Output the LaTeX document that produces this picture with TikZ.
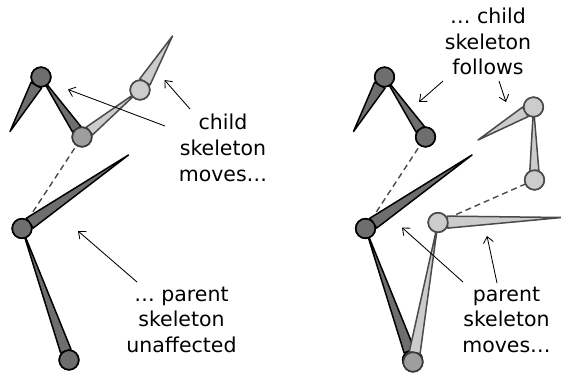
\documentclass[tikz,border=0pt]{standalone}
\usepackage{fontspec}
\setmainfont{DejaVu Sans}
\usetikzlibrary{calc,arrows.meta}
\definecolor{darkfill}{HTML}{6E6E6E}
\definecolor{lightfill}{HTML}{CCCCCC}
\definecolor{midfill}{HTML}{9E9E9E}
\definecolor{lightline}{HTML}{4A4A4A}
\definecolor{midline}{HTML}{3A3A3A}
\tikzset{
  jointdark/.style={circle, minimum size=19.5pt, inner sep=0pt, draw=black, line width=1.6pt, fill=darkfill},
  jointmid/.style={circle, minimum size=19.5pt, inner sep=0pt, draw=midline, line width=1.6pt, fill=midfill},
  jointlight/.style={circle, minimum size=19.5pt, inner sep=0pt, draw=lightline, line width=1.6pt, fill=lightfill},
  bonedark/.style={draw=black, line width=1.5pt, fill=darkfill, line join=round},
  bonelight/.style={draw=lightline, line width=1.5pt, fill=lightfill, line join=round},
  linkdash/.style={draw=lightline, line width=1.4pt, dash pattern=on 6pt off 4pt},
  pointer/.style={draw=black, line width=0.85pt, -{Straight Barb[length=6pt,width=10pt]}},
  lbl/.style={font=\fontsize{20.5pt}{25.5pt}\selectfont, anchor=base, inner sep=0pt}
}
\newcommand\bonedraw[4]{%
  \path coordinate (bb) at ($(#1.center)!9.5pt!(#2.center)$);
  \draw[#4] ($(bb)!#3!90:(#2.center)$) -- (#2.center) -- ($(bb)!#3!-90:(#2.center)$) -- cycle;
}
\begin{document}
\begin{tikzpicture}[x=1pt,y=-1pt]
\useasboundingbox (0,0) rectangle (561,372);
% ---------- left: coordinates ----------
\coordinate (tA) at (10,131.5);
\coordinate (tC) at (172.5,36);
\coordinate (tD) at (128.5,155);
\path (41,77) node[jointdark] (A) {};
\path (82,137) node[jointmid] (B) {};
\path (140,90) node[jointlight] (C) {};
\path (22,228.5) node[jointdark] (D) {};
\path (69,360) node[jointdark] (E) {};
% ---------- right: coordinates ----------
\coordinate (tA2) at (353.5,131.5);
\coordinate (tD2) at (472,155);
\coordinate (tD3) at (562,217.5);
\coordinate (tC3) at (478,140);
\path (384.5,77) node[jointdark] (A2) {};
\path (425.5,137) node[jointdark] (B2) {};
\path (365.5,228.5) node[jointdark] (D2) {};
\path (412.5,360) node[jointdark] (E2) {};
\path (438,222.5) node[jointlight] (D3) {};
\path (534.5,180) node[jointlight] (B3) {};
\path (533.5,107) node[jointlight] (C3) {};
\path (413,362) node[jointmid] (E3) {};
% ---------- left drawing ----------
\draw[linkdash] (D.center) -- (B.center);
\bonedraw{E}{D}{5.5pt}{bonedark}
\bonedraw{D}{tD}{6pt}{bonedark}
\bonedraw{B}{A}{5pt}{bonedark}
\bonedraw{A}{tA}{6pt}{bonedark}
\bonedraw{B}{C}{5pt}{bonelight}
\bonedraw{C}{tC}{6pt}{bonelight}
\node[jointdark] at (E) {};
\node[jointdark] at (D) {};
\node[jointdark] at (A) {};
\node[jointmid] at (B) {};
\node[jointlight] at (C) {};
% ---------- right drawing ----------
\draw[linkdash] (D2.center) -- (B2.center);
\draw[linkdash] (D3.center) -- (B3.center);
\bonedraw{E2}{D2}{5.5pt}{bonedark}
\bonedraw{D2}{tD2}{6pt}{bonedark}
\bonedraw{B2}{A2}{5pt}{bonedark}
\bonedraw{A2}{tA2}{6pt}{bonedark}
\node[jointdark] at (D2) {};
\node[jointdark] at (A2) {};
\node[jointdark] at (B2) {};
\node[jointdark] at (E2) {};
\bonedraw{E3}{D3}{5.5pt}{bonelight}
\bonedraw{D3}{tD3}{6pt}{bonelight}
\bonedraw{B3}{C3}{4.5pt}{bonelight}
\bonedraw{C3}{tC3}{5.5pt}{bonelight}
\node[jointmid] at (E3) {};
\node[jointlight] at (D3) {};
\node[jointlight] at (B3) {};
\node[jointlight] at (C3) {};
% ---------- labels ----------
\node[lbl] (l1a) at (223,129.5) {child};
\node[lbl] (l1b) at (223,155.5) {skeleton};
\node[lbl] (l1c) at (223,181.5) {moves…};
\node[lbl] (l2a) at (181.5,301) {… parent};
\node[lbl] (l2b) at (181.5,326.5) {skeleton};
\node[lbl] (l2c) at (181.5,352) {unaffected};
\node[lbl] (l3a) at (488,23.5) {… child};
\node[lbl] (l3b) at (488,49) {skeleton};
\node[lbl] (l3c) at (488,74.5) {follows};
\node[lbl] (l4a) at (506.5,301) {parent};
\node[lbl] (l4b) at (506.5,326.5) {skeleton};
\node[lbl] (l4c) at (506.5,352) {moves…};
% ---------- pointers ----------
\coordinate (p1s) at (165,126); \coordinate (p1e) at (68,89.5);
\coordinate (p2s) at (190,109); \coordinate (p2e) at (164.5,80);
\coordinate (p3s) at (137,282); \coordinate (p3e) at (78,231);
\coordinate (p4s) at (443,81); \coordinate (p4e) at (419,102);
\coordinate (p5s) at (499,81); \coordinate (p5e) at (506,102);
\coordinate (p6s) at (463,282); \coordinate (p6e) at (402,227.5);
\coordinate (p7s) at (497,283); \coordinate (p7e) at (487,236);
\draw[pointer] (p1s) -- (p1e);
\draw[pointer] (p2s) -- (p2e);
\draw[pointer] (p3s) -- (p3e);
\draw[pointer] (p4s) -- (p4e);
\draw[pointer] (p5s) -- (p5e);
\draw[pointer] (p6s) -- (p6e);
\draw[pointer] (p7s) -- (p7e);
\end{tikzpicture}
\end{document}
